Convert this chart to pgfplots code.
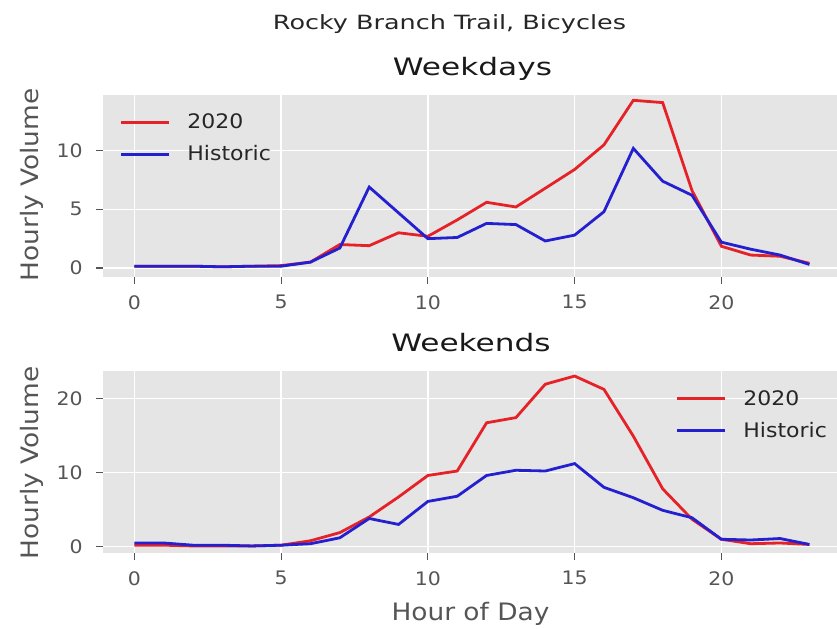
\documentclass[border=0pt]{standalone}
\usepackage{fontspec}
\setmainfont{DejaVu Sans}[FakeStretch=1.1]
\newfontfamily\titlefont{DejaVu Sans}[FakeStretch=1.3]
\usepackage{pgfplots}
\pgfplotsset{compat=1.18}
\definecolor{bg}{RGB}{229,229,229}
\definecolor{tickgray}{RGB}{85,85,85}
\definecolor{lred}{RGB}{228,34,40}
\definecolor{lblue}{RGB}{36,32,208}

\pgfplotstableread{
h r b
0 0.15 0.15
1 0.15 0.15
2 0.15 0.15
3 0.10 0.10
4 0.15 0.15
5 0.20 0.15
6 0.50 0.50
7 2.00 1.70
8 1.90 6.90
9 3.00 4.70
10 2.70 2.50
11 4.10 2.60
12 5.60 3.80
13 5.20 3.70
14 6.80 2.30
15 8.40 2.80
16 10.5 4.80
17 14.3 10.2
18 14.1 7.40
19 6.60 6.20
20 1.85 2.20
21 1.10 1.60
22 1.00 1.10
23 0.40 0.30
}\weekdays

\pgfplotstableread{
h r b
0 0.20 0.50
1 0.20 0.50
2 0.10 0.20
3 0.10 0.20
4 0.10 0.10
5 0.20 0.20
6 0.80 0.40
7 1.90 1.20
8 4.00 3.80
9 6.70 3.00
10 9.60 6.10
11 10.2 6.80
12 16.7 9.60
13 17.4 10.3
14 21.9 10.2
15 23.0 11.2
16 21.2 8.00
17 14.9 6.60
18 7.80 4.90
19 3.70 3.90
20 1.00 1.00
21 0.40 0.90
22 0.50 1.10
23 0.30 0.30
}\weekends

\pgfplotsset{
  mystyle/.style={
    scale only axis, width=367bp, height=91bp,
    xmin=-1.07, xmax=23.94,
    axis background/.style={fill=bg},
    axis line style={draw=none},
    grid=major, major grid style={white, line width=0.8bp},
    tick align=outside, tick pos=left,
    major tick length=3.5bp,
    every tick/.style={tickgray, line width=0.6bp},
    xtick={0,5,10,15,20},
    tick label style={font=\fontsize{9.3bp}{11bp}\selectfont, text=tickgray},
    /pgf/number format/assume math mode=true,
    xticklabel style={inner sep=0pt, anchor=north},
    yticklabel style={inner sep=0pt, anchor=east},
    xticklabel shift=5.5bp, yticklabel shift=6.5bp,
    legend cell align=left,
    legend style={draw=none, fill=none, inner sep=0pt, outer sep=0pt,
       font=\fontsize{10bp}{12bp}\selectfont, text=black!85,
       row sep=6bp,
       nodes={inner sep=0pt, text height=7.5bp, text depth=2.5bp}},
    legend image code/.code={\path[draw=none] (0bp,0bp) -- (33bp,0bp); \draw[#1] (0bp,0.7bp) -- (24bp,0.7bp);},
    every axis plot/.append style={line width=1.4bp},
  }
}

\begin{document}
\begin{tikzpicture}
\useasboundingbox (0,0) rectangle (418.5bp,314.5bp);

\begin{axis}[mystyle, at={(51.5bp,176bp)}, anchor=south west,
  ymin=-0.77, ymax=14.75, ytick={0,5,10},
  legend style={at={(0.0232,0.8956)}, anchor=north west}]
\addplot[lred] table[x=h,y=r]{\weekdays};
\addlegendentry{2020}
\addplot[lblue] table[x=h,y=b]{\weekdays};
\addlegendentry{Historic}
\end{axis}

\begin{axis}[mystyle, at={(51.5bp,38bp)}, anchor=south west,
  ymin=-0.85, ymax=23.68, ytick={0,10,20},
  legend style={at={(0.7807,0.8956)}, anchor=north west}]
\addplot[lred] table[x=h,y=r]{\weekends};
\addlegendentry{2020}
\addplot[lblue] table[x=h,y=b]{\weekends};
\addlegendentry{Historic}
\end{axis}

\node[anchor=base, font=\titlefont\fontsize{9.8bp}{12bp}\selectfont, text=black!85] at (224.75bp,299.5bp) {Rocky Branch Trail, Bicycles};
\node[anchor=base, font=\titlefont\fontsize{12bp}{14bp}\selectfont, text=black!90] at (236.25bp,276.5bp) {Weekdays};
\node[anchor=base, font=\titlefont\fontsize{12bp}{14bp}\selectfont, text=black!90] at (235.5bp,138.5bp) {Weekends};
\node[anchor=base, font=\fontsize{12bp}{14bp}\selectfont, text=tickgray] at (235.25bp,4.5bp) {Hour of Day};
\node[anchor=base, rotate=90, font=\fontsize{12bp}{14bp}\selectfont, text=tickgray] at (19.15bp,222bp) {Hourly Volume};
\node[anchor=base, rotate=90, font=\fontsize{12bp}{14bp}\selectfont, text=tickgray] at (19.15bp,83bp) {Hourly Volume};
\end{tikzpicture}
\end{document}
